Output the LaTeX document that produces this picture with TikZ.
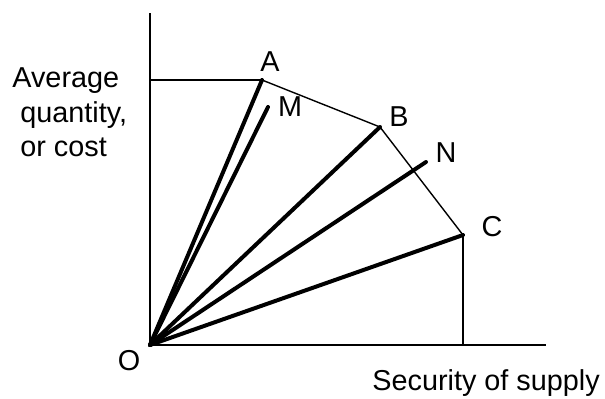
\documentclass[tikz,border=0pt]{standalone}
\usepackage{fontspec}
\setmainfont{Liberation Sans}

\begin{document}
\begin{tikzpicture}[
  x=0.5pt,y=-0.5pt,
  every node/.style={font=\fontsize{14.4}{17}\selectfont,inner sep=0pt},
  axis/.style={line width=1pt},
  frontier/.style={line width=0.7pt},
  ray/.style={line width=2pt,line cap=round}
]
  \useasboundingbox (0,0) rectangle (605,398);

  \coordinate (O) at (150,345);
  \coordinate (ytop) at (150,13);
  \coordinate (xend) at (546,345);
  \coordinate (A) at (262,80);
  \coordinate (Ay) at (150,80);
  \coordinate (B) at (380,127);
  \coordinate (C) at (463,235);
  \coordinate (Cx) at (463,345);
  \coordinate (M) at (268,107);
  \coordinate (N) at (426,162);

  % axes and guides
  \draw[axis] (ytop) -- (O) -- (xend);
  \draw[axis] (Ay) -- (A);
  \draw[axis] (C) -- (Cx);
  \draw[frontier] (A) -- (B) -- (C);

  \foreach \p in {A,M,B,N,C} {\draw[ray] (O) -- (\p);}

  \node (lblA) at (270,62) {A};
  \node (lblM) at (290,107) {M};
  \node (lblB) at (399,117) {B};
  \node (lblN) at (446,153) {N};
  \node (lblC) at (492,227) {C};
  \node (lblO) at (129,361) {O};

  \node[anchor=base west] (yline1) at (12,87) {Average};
  \node[anchor=base west] (yline2) at (20,122) {quantity,};
  \node[anchor=base west] (yline3) at (20,156) {or cost};
  \node[anchor=base west] (xlabel) at (372,390) {Security of supply};
\end{tikzpicture}
\end{document}
